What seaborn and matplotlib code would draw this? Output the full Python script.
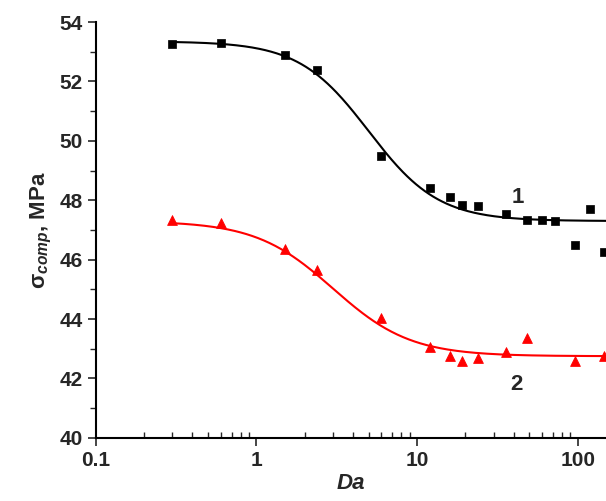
import numpy as np
import matplotlib
matplotlib.use("Agg")
import matplotlib.pyplot as plt
import seaborn as sns
from matplotlib.ticker import LogLocator, FixedLocator, FuncFormatter

sns.set_theme(style="ticks")
plt.rcParams['font.family'] = ['Liberation Sans', 'DejaVu Sans']
plt.rcParams['mathtext.fontset'] = 'custom'
plt.rcParams['mathtext.bfit'] = 'Liberation Sans:italic:bold'

x1 = [0.3, 0.6, 1.5, 2.4, 6, 12, 16, 19, 24, 36, 48, 60, 72, 96, 120, 145]
y1 = [53.25, 53.3, 52.9, 52.4, 49.5, 48.4, 48.1, 47.85, 47.8, 47.55, 47.35, 47.35, 47.3, 46.5, 47.7, 46.25]
x2 = [0.3, 0.6, 1.5, 2.4, 6, 12, 16, 19, 24, 36, 48, 96, 145]
y2 = [47.35, 47.25, 46.35, 45.65, 44.05, 43.05, 42.75, 42.6, 42.7, 42.9, 43.35, 42.6, 42.75]
fit1 = (53.35, 47.3, 5.0, 2.0)
fit2 = (47.3, 42.75, 3.0, 1.8)

def curve(x, p):
    a1, a2, x0, k = p
    return a2 + (a1 - a2) / (1 + (x / x0) ** k)

fig = plt.figure(figsize=(6.06, 5.01), dpi=100)
ax = fig.add_axes([0.158, 0.126, 0.842, 0.83])
xs = np.logspace(np.log10(0.3), np.log10(150), 300)
sns.lineplot(x=xs, y=curve(xs, fit1), color='black', lw=1.5, ax=ax)
sns.lineplot(x=xs, y=curve(xs, fit2), color='red', lw=1.5, ax=ax)
sns.scatterplot(x=x1, y=y1, marker='s', color='black', s=40, edgecolor='black', ax=ax, zorder=3)
sns.scatterplot(x=x2, y=y2, marker='^', color='red', s=50, edgecolor='red', ax=ax, zorder=3)
ax.set_xscale('log')
ax.set_xlim(0.1, 150)
ax.set_ylim(40, 54)
ax.set_yticks(range(40, 55, 2))
ax.yaxis.set_minor_locator(FixedLocator(range(41, 54, 2)))
ax.xaxis.set_major_formatter(FuncFormatter(lambda v, p: f"{v:g}"))
ax.xaxis.set_minor_locator(LogLocator(subs=np.arange(2, 10)))
ax.tick_params(axis='x', which='minor', direction='in', length=4)
ax.tick_params(which='major', length=6, width=1.2, labelsize=15)
ax.tick_params(axis='y', which='minor', length=4)
for lbl in ax.get_xticklabels() + ax.get_yticklabels():
    lbl.set_fontweight('bold')
for s in ['left', 'bottom']:
    ax.spines[s].set_linewidth(1.5)
    ax.spines[s].set_color('black')
sns.despine(ax=ax)
ax.set_xlabel('Da', fontsize=16, fontweight='bold', fontstyle='italic', labelpad=2)
ax.set_ylabel(r'σ$_{\mathbfit{comp}}$, MPa', fontsize=16, fontweight='bold')
ax.text(39, 47.9, '1', fontsize=16, fontweight='bold')
ax.text(38, 41.6, '2', fontsize=16, fontweight='bold')
fig.savefig('out.png', dpi=100)
